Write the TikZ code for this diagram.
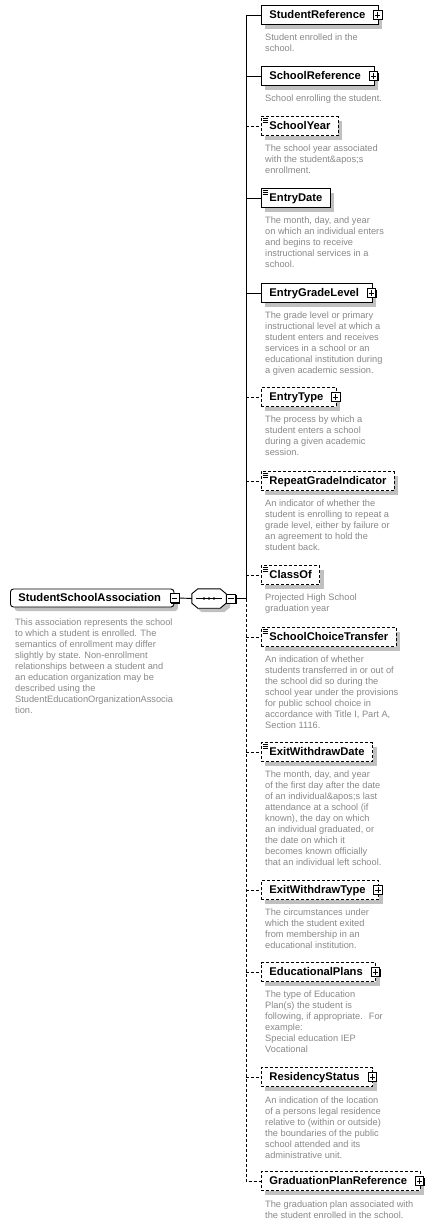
\documentclass[tikz,border=0pt]{standalone}
\usepackage{fontspec}
\setmainfont{Liberation Sans}
\usetikzlibrary{positioning}
\usetikzlibrary{shadows}

\definecolor{descgray}{RGB}{136,136,136}
\definecolor{shadowgray}{RGB}{192,192,192}

\tikzset{
elem/.style={draw=black, fill=white, line width=0.9pt, minimum height=19pt, inner xsep=8pt, inner ysep=0pt, text height=8pt, text depth=0.6pt, font=\fontsize{11.2}{13}\selectfont\bfseries, drop shadow={shadow xshift=4pt, shadow yshift=-4pt, fill=shadowgray, opacity=1}, anchor=west},
optelem/.style={elem, dash pattern=on 3pt off 2pt},
rootelem/.style={elem, rounded corners=3pt, minimum height=18pt},
expandable/.style={execute at end node={\hspace*{5pt}}},
simple/.style={path picture={\draw[solid, line width=0.7pt] ([xshift=1.5pt,yshift=-1.8pt]path picture bounding box.north west) -- +(5pt,0pt) ([xshift=1.5pt,yshift=-3.8pt]path picture bounding box.north west) -- +(5pt,0pt) ([xshift=1.5pt,yshift=-5.8pt]path picture bounding box.north west) -- +(5pt,0pt);}},
desc/.style={text=descgray, align=left, inner sep=0pt, font=\fontsize{9.25}{11}\selectfont},
plusbox/.style={draw=black, fill=white, line width=0.8pt, minimum size=8.5pt, inner sep=0pt, drop shadow={shadow xshift=1pt, shadow yshift=-1pt, fill=black, opacity=1}, path picture={\draw[solid, line width=0.8pt] ([xshift=-2.6pt]path picture bounding box.center) -- ([xshift=2.6pt]path picture bounding box.center) ([yshift=-2.6pt]path picture bounding box.center) -- ([yshift=2.6pt]path picture bounding box.center);}},
minusbox/.style={draw=black, fill=white, line width=0.8pt, minimum size=9pt, inner sep=0pt, drop shadow={shadow xshift=1pt, shadow yshift=-1pt, fill=black, opacity=1}, path picture={\draw[solid, line width=0.8pt] ([xshift=-2.8pt]path picture bounding box.center) -- ([xshift=2.8pt]path picture bounding box.center);}},
conn/.style={draw=black, line width=0.9pt},
optline/.style={dash pattern=on 3pt off 2pt},
}

\begin{document}
\begin{tikzpicture}[x=1pt, y=-1pt]
\useasboundingbox (0,0) rectangle (435,1226);

% root element and sequence
\node[rootelem, expandable] (ssa) at (10,598) {StudentSchoolAssociation};
\node[minusbox] (ssaminus) at (ssa.east) {};
\node[desc, below=11.3pt of ssa.south west, xshift=5pt, anchor=north west] (ssadesc) {This association represents the school\\to which a student is enrolled. The\\semantics of enrollment may differ\\slightly by state. Non-enrollment\\relationships between a student and\\an education organization may be\\described using the\\StudentEducationOrganizationAssocia\\tion.};
\node[minimum width=34pt, minimum height=19pt, inner sep=0pt] (seq) at (209,598.5) {};
\draw[line width=0.9pt, fill=white, drop shadow={shadow xshift=4pt, shadow yshift=-4pt, fill=shadowgray, opacity=1}] ([xshift=6pt]seq.north west) -- ([xshift=-6pt]seq.north east) -- ([yshift=-5pt]seq.north east) -- ([yshift=5pt]seq.south east) -- ([xshift=-6pt]seq.south east) -- ([xshift=6pt]seq.south west) -- ([yshift=5pt]seq.south west) -- ([yshift=-5pt]seq.north west) -- cycle;
\draw[line width=0.8pt] ([xshift=4pt]seq.west) -- ([xshift=-4pt]seq.east);
\foreach \dx in {-5,0,5} \fill ([xshift=\dx pt]seq.center) circle (1.4pt);
\node[minusbox, anchor=west] (seqminus) at (seq.east) {};
\coordinate (jn) at (246,598.5);

% children
\node[elem, expandable] (studref) at (261,15) {StudentReference};
\node[plusbox] (studrefplus) at ([xshift=-1pt]studref.east) {};
\node[desc, below=8.8pt of studref.south west, xshift=4pt, anchor=north west] (studrefdesc) {Student enrolled in the\\school.};

\node[elem, expandable] (schref) at (261,76) {SchoolReference};
\node[plusbox] (schrefplus) at ([xshift=-1pt]schref.east) {};
\node[desc, below=8.8pt of schref.south west, xshift=4pt, anchor=north west] (schrefdesc) {School enrolling the student.};

\node[optelem, simple] (schyear) at (261,126) {SchoolYear};
\node[desc, below=8.8pt of schyear.south west, xshift=4pt, anchor=north west] (schyeardesc) {The school year associated\\with the student\&apos;s\\enrollment.};

\node[elem, simple] (entrydate) at (261,198) {EntryDate};
\node[desc, below=8.8pt of entrydate.south west, xshift=4pt, anchor=north west] (entrydatedesc) {The month, day, and year\\on which an individual enters\\and begins to receive\\instructional services in a\\school.};

\node[elem, expandable] (entrygrade) at (261,293) {EntryGradeLevel};
\node[plusbox] (entrygradeplus) at ([xshift=-1pt]entrygrade.east) {};
\node[desc, below=8.3pt of entrygrade.south west, xshift=4pt, anchor=north west] (entrygradedesc) {The grade level or primary\\instructional level at which a\\student enters and receives\\services in a school or an\\educational institution during\\a given academic session.};

\node[optelem, expandable] (entrytype) at (261,397) {EntryType};
\node[plusbox] (entrytypeplus) at ([xshift=-1pt]entrytype.east) {};
\node[desc, below=8.8pt of entrytype.south west, xshift=4pt, anchor=north west] (entrytypedesc) {The process by which a\\student enters a school\\during a given academic\\session.};

\node[optelem, simple] (repgrade) at (261,481) {RepeatGradeIndicator};
\node[desc, below=8.8pt of repgrade.south west, xshift=4pt, anchor=north west] (repgradedesc) {An indicator of whether the\\student is enrolling to repeat a\\grade level, either by failure or\\an agreement to hold the\\student back.};

\node[optelem, simple] (classof) at (261,575) {ClassOf};
\node[desc, below=8.8pt of classof.south west, xshift=4pt, anchor=north west] (classofdesc) {Projected High School\\graduation year};

\node[optelem, simple] (choice) at (261,637) {SchoolChoiceTransfer};
\node[desc, below=8.3pt of choice.south west, xshift=4pt, anchor=north west] (choicedesc) {An indication of whether\\students transferred in or out of\\the school did so during the\\school year under the provisions\\for public school choice in\\accordance with Title I, Part A,\\Section 1116.};

\node[optelem, simple] (exitdate) at (261,752) {ExitWithdrawDate};
\node[desc, below=8.8pt of exitdate.south west, xshift=4pt, anchor=north west] (exitdatedesc) {The month, day, and year\\of the first day after the date\\of an individual\&apos;s last\\attendance at a school (if\\known), the day on which\\an individual graduated, or\\the date on which it\\becomes known officially\\that an individual left school.};

\node[optelem, expandable] (exittype) at (261,890) {ExitWithdrawType};
\node[plusbox] (exittypeplus) at ([xshift=-1pt]exittype.east) {};
\node[desc, below=8.8pt of exittype.south west, xshift=4pt, anchor=north west] (exittypedesc) {The circumstances under\\which the student exited\\from membership in an\\educational institution.};

\node[optelem, expandable] (eduplans) at (261,972) {EducationalPlans};
\node[plusbox] (eduplansplus) at ([xshift=-1pt]eduplans.east) {};
\node[desc, below=8.8pt of eduplans.south west, xshift=4pt, anchor=north west] (eduplansdesc) {The type of Education\\Plan(s) the student is\\following, if appropriate.~ For\\example:\\Special education IEP\\Vocational};

\node[optelem, expandable] (residency) at (261,1077) {ResidencyStatus};
\node[plusbox] (residencyplus) at ([xshift=-1pt]residency.east) {};
\node[desc, below=9.3pt of residency.south west, xshift=4pt, anchor=north west] (residencydesc) {An indication of the location\\of a persons legal residence\\relative to (within or outside)\\the boundaries of the public\\school attended and its\\administrative unit.};

\node[optelem, expandable] (gradref) at (261,1181) {GraduationPlanReference};
\node[plusbox] (gradrefplus) at ([xshift=-1pt]gradref.east) {};
\node[desc, below=9.8pt of gradref.south west, xshift=4pt, anchor=north west] (gradrefdesc) {The graduation plan associated with\\the student enrolled in the school.};

% connectors
\draw[conn] (ssaminus.east) -- (seq.west);
\draw[conn] (seqminus.east) -- (jn);
\draw[conn] (jn) |- (studref.west);
\draw[conn, optline] (jn) |- (gradref.west);
\foreach \n in {schref, entrydate, entrygrade}
  \draw[conn] (jn |- \n.west) -- (\n.west);
\foreach \n in {schyear, entrytype, repgrade, classof, choice, exitdate, exittype, eduplans, residency}
  \draw[conn, optline] (jn |- \n.west) -- (\n.west);
\end{tikzpicture}
\end{document}
